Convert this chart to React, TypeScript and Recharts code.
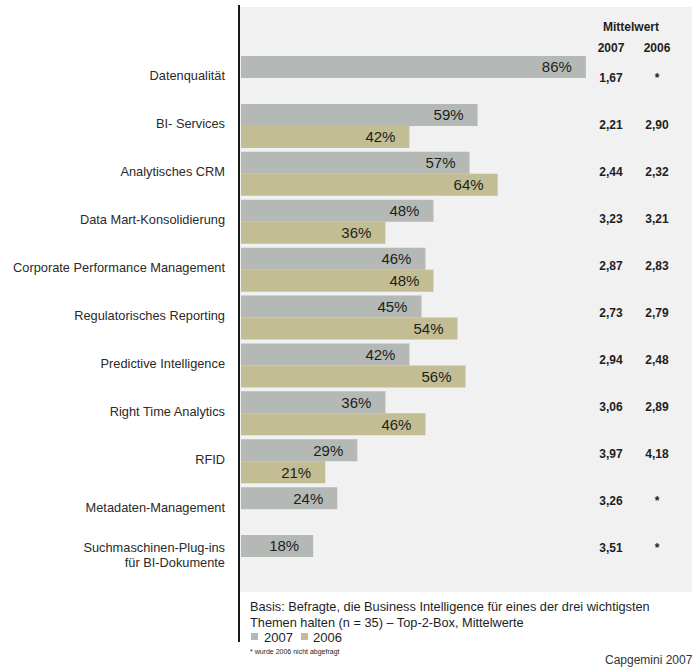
import React from 'react';
import { BarChart, Bar, XAxis, YAxis, LabelList } from 'recharts';

const categories = [
  'Datenqualität',
  'BI- Services',
  'Analytisches CRM',
  'Data Mart-Konsolidierung',
  'Corporate Performance Management',
  'Regulatorisches Reporting',
  'Predictive Intelligence',
  'Right Time Analytics',
  'RFID',
  'Metadaten-Management',
  'Suchmaschinen-Plug-ins\nfür BI-Dokumente',
];
const share2007 = [86, 59, 57, 48, 46, 45, 42, 36, 29, 24, 18];
const share2006: (number | null)[] = [null, 42, 64, 36, 48, 54, 56, 46, 21, null, null];
const mean2007 = ['1,67', '2,21', '2,44', '3,23', '2,87', '2,73', '2,94', '3,06', '3,97', '3,26', '3,51'];
const mean2006 = ['*', '2,90', '2,32', '3,21', '2,83', '2,79', '2,48', '2,89', '4,18', '*', '*'];

const data = categories.map((name, i) => ({
  name,
  y2007: share2007[i],
  y2006: share2006[i],
}));

const FONT = '"Liberation Sans", Arial, Helvetica, sans-serif';
const GREY = '#b4b9b6';
const KHAKI = '#c2bd93';
const INK = '#1e1e1e';

const CategoryTick = ({ y, payload }: any) => {
  const idx = categories.indexOf(payload.value);
  const lines = String(payload.value).split('\n');
  // the Mittelwert column sits on a slightly tighter pitch than the bars
  const my = y - idx * 0.9;
  return (
    <g fontFamily={FONT}>
      {lines.length === 1 ? (
        <text x={225} y={y - 2} textAnchor="end" dominantBaseline="central" fontSize={12.8} fill="#2a2a2a">
          {lines[0]}
        </text>
      ) : (
        lines.map((l, k) => (
          <text key={k} x={225} y={y - 10 + k * 15} textAnchor="end" dominantBaseline="central" fontSize={12.8} fill="#2a2a2a">
            {l}
          </text>
        ))
      )}
      <text x={611} y={my} textAnchor="middle" dominantBaseline="central" fontSize={12} fontWeight="bold" fill={INK}>
        {mean2007[idx]}
      </text>
      <text x={657} y={my} textAnchor="middle" dominantBaseline="central" fontSize={12} fontWeight="bold" fill={INK}>
        {mean2006[idx]}
      </text>
    </g>
  );
};

const pct = (v: any) => (v == null ? '' : `${v}%`);

export default function App() {
  return (
    <div style={{ position: 'absolute', left: 0, top: 0, width: 692, height: 669, background: '#fff', fontFamily: FONT, overflow: 'hidden' }}>
      {/* backdrop panel and the long black axis rule */}
      <div style={{ position: 'absolute', left: 240, top: 7, width: 452, height: 585, background: '#f0f1f0' }} />
      <div style={{ position: 'absolute', left: 238, top: 5, width: 2, height: 637, background: '#1a1a1a' }} />

      <div style={{ position: 'absolute', left: 0, top: 0 }}>
        <BarChart
          width={692}
          height={669}
          data={data}
          layout="vertical"
          barSize={22}
          barGap={0}
          margin={{ top: 54, right: 50, bottom: 88, left: 0 }}
        >
          <XAxis type="number" domain={[0, 100]} hide />
          <YAxis
            type="category"
            dataKey="name"
            width={241}
            axisLine={false}
            tickLine={false}
            interval={0}
            tick={<CategoryTick />}
          />
          <Bar dataKey="y2007" fill={GREY} isAnimationActive={false}>
            <LabelList dataKey="y2007" position="insideRight" offset={14} formatter={pct} fill={INK} fontSize={15} fontFamily={FONT} />
          </Bar>
          <Bar dataKey="y2006" fill={KHAKI} isAnimationActive={false}>
            <LabelList dataKey="y2006" position="insideRight" offset={14} formatter={pct} fill={INK} fontSize={15} fontFamily={FONT} />
          </Bar>
        </BarChart>
      </div>

      <svg width={692} height={669} style={{ position: 'absolute', left: 0, top: 0, pointerEvents: 'none' }} fontFamily={FONT}>
        <text x={631} y={27} textAnchor="middle" dominantBaseline="central" fontSize={12} fontWeight="bold" fill={INK}>Mittelwert</text>
        <text x={611} y={48} textAnchor="middle" dominantBaseline="central" fontSize={12} fontWeight="bold" fill={INK}>2007</text>
        <text x={657} y={48} textAnchor="middle" dominantBaseline="central" fontSize={12} fontWeight="bold" fill={INK}>2006</text>

        <text x={250} y={606} dominantBaseline="central" fontSize={12.75} fill={INK}>
          Basis: Befragte, die Business Intelligence für eines der drei wichtigsten
        </text>
        <text x={250} y={622} dominantBaseline="central" fontSize={12.75} fill={INK}>
          Themen halten (n = 35) – Top-2-Box, Mittelwerte
        </text>
        <rect x={251} y={633} width={7} height={7} fill={GREY} />
        <text x={264} y={637} dominantBaseline="central" fontSize={13} fill={INK}>2007</text>
        <rect x={301} y={633} width={7} height={7} fill={KHAKI} />
        <text x={313} y={637} dominantBaseline="central" fontSize={13} fill={INK}>2006</text>
        <text x={250} y={651} dominantBaseline="central" fontSize={7} fill={INK}>* wurde 2006 nicht abgefragt</text>
        <text x={605} y={660} dominantBaseline="central" fontSize={12} fill="#333">Capgemini 2007</text>
      </svg>
    </div>
  );
}
